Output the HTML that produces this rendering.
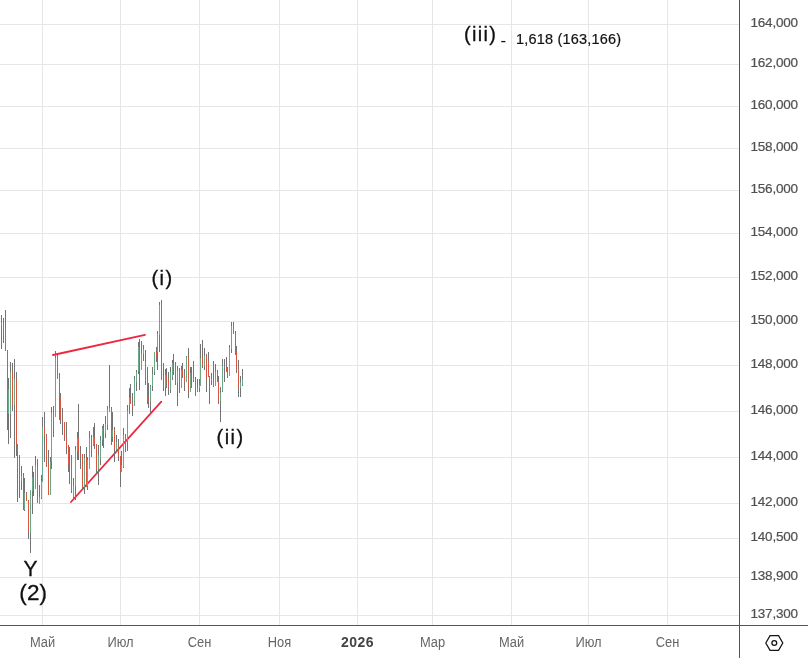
<!DOCTYPE html>
<html lang="ru"><head><meta charset="utf-8"><title>chart</title>
<style>
html,body{margin:0;padding:0;background:#fff;}
body{will-change:transform;width:808px;height:658px;position:relative;overflow:hidden;font-family:"Liberation Sans",sans-serif;}
svg{position:absolute;left:0;top:0;}
.pl{position:absolute;left:750.5px;width:57px;font-size:13.5px;letter-spacing:-0.2px;line-height:16px;color:#505050;-webkit-text-stroke:0.2px #505050;white-space:nowrap;}
.tl{position:absolute;top:634px;width:61px;text-align:center;font-size:14px;letter-spacing:0;line-height:16px;color:#666;transform:scaleX(0.92);white-space:nowrap;}
.tl.b{font-weight:bold;color:#444;transform:none;letter-spacing:0.45px;}
.w{position:absolute;color:#111;-webkit-text-stroke:0.3px #111;white-space:nowrap;line-height:1;}
</style></head><body>
<svg width="808" height="658" viewBox="0 0 808 658" shape-rendering="crispEdges">
<rect x="0" y="24" width="739" height="1" fill="#e6e6e6"/>
<rect x="0" y="64" width="739" height="1" fill="#e6e6e6"/>
<rect x="0" y="106" width="739" height="1" fill="#e6e6e6"/>
<rect x="0" y="148" width="739" height="1" fill="#e6e6e6"/>
<rect x="0" y="190" width="739" height="1" fill="#e6e6e6"/>
<rect x="0" y="233" width="739" height="1" fill="#e6e6e6"/>
<rect x="0" y="277" width="739" height="1" fill="#e6e6e6"/>
<rect x="0" y="321" width="739" height="1" fill="#e6e6e6"/>
<rect x="0" y="365" width="739" height="1" fill="#e6e6e6"/>
<rect x="0" y="411" width="739" height="1" fill="#e6e6e6"/>
<rect x="0" y="457" width="739" height="1" fill="#e6e6e6"/>
<rect x="0" y="503" width="739" height="1" fill="#e6e6e6"/>
<rect x="0" y="538" width="739" height="1" fill="#e6e6e6"/>
<rect x="0" y="577" width="739" height="1" fill="#e6e6e6"/>
<rect x="0" y="615" width="739" height="1" fill="#e6e6e6"/>
<rect x="42" y="0" width="1" height="625" fill="#e6e6e6"/>
<rect x="120" y="0" width="1" height="625" fill="#e6e6e6"/>
<rect x="199" y="0" width="1" height="625" fill="#e6e6e6"/>
<rect x="279" y="0" width="1" height="625" fill="#e6e6e6"/>
<rect x="357" y="0" width="1" height="625" fill="#e6e6e6"/>
<rect x="432" y="0" width="1" height="625" fill="#e6e6e6"/>
<rect x="511" y="0" width="1" height="625" fill="#e6e6e6"/>
<rect x="588" y="0" width="1" height="625" fill="#e6e6e6"/>
<rect x="667" y="0" width="1" height="625" fill="#e6e6e6"/>
<rect x="739" y="0" width="1" height="658" fill="#555"/>
<rect x="0" y="625" width="808" height="1" fill="#555"/>
<g shape-rendering="auto">
<line x1="53" y1="355" x2="145" y2="334.8" stroke="#f0263c" stroke-width="1.8" stroke-linecap="round"/>
<line x1="71" y1="502" x2="161.3" y2="401.6" stroke="#f0263c" stroke-width="1.8" stroke-linecap="round"/>
</g>
<rect x="1" y="315" width="1" height="34" fill="#737375"/>
<rect x="1" y="323" width="1" height="2" fill="#69a886"/>
<rect x="3" y="318" width="1" height="25" fill="#737375"/>
<rect x="3" y="323" width="1" height="7" fill="#da5540"/>
<rect x="5" y="310" width="1" height="41" fill="#737375"/>
<rect x="5" y="329" width="1" height="22" fill="#da5540"/>
<rect x="7" y="350" width="1" height="80" fill="#737375"/>
<rect x="7" y="350" width="1" height="63" fill="#da5540"/>
<rect x="8" y="378" width="1" height="66" fill="#737375"/>
<rect x="8" y="389" width="1" height="25" fill="#69a886"/>
<rect x="10" y="362" width="1" height="76" fill="#737375"/>
<rect x="10" y="372" width="1" height="42" fill="#69a886"/>
<rect x="12" y="363" width="1" height="48" fill="#737375"/>
<rect x="12" y="372" width="1" height="33" fill="#da5540"/>
<rect x="14" y="359" width="1" height="99" fill="#737375"/>
<rect x="14" y="379" width="1" height="26" fill="#69a886"/>
<rect x="16" y="372" width="1" height="84" fill="#737375"/>
<rect x="16" y="379" width="1" height="67" fill="#da5540"/>
<rect x="17" y="444" width="1" height="58" fill="#737375"/>
<rect x="17" y="445" width="1" height="24" fill="#da5540"/>
<rect x="19" y="455" width="1" height="43" fill="#737375"/>
<rect x="19" y="456" width="1" height="26" fill="#da5540"/>
<rect x="21" y="466" width="1" height="24" fill="#737375"/>
<rect x="21" y="476" width="1" height="5" fill="#69a886"/>
<rect x="23" y="473" width="1" height="37" fill="#737375"/>
<rect x="23" y="476" width="1" height="34" fill="#da5540"/>
<rect x="24" y="478" width="1" height="33" fill="#737375"/>
<rect x="24" y="493" width="1" height="17" fill="#69a886"/>
<rect x="26" y="492" width="1" height="9" fill="#737375"/>
<rect x="26" y="493" width="1" height="8" fill="#da5540"/>
<rect x="28" y="500" width="1" height="39" fill="#737375"/>
<rect x="28" y="500" width="1" height="32" fill="#da5540"/>
<rect x="30" y="490" width="1" height="63" fill="#737375"/>
<rect x="30" y="490" width="1" height="43" fill="#69a886"/>
<rect x="32" y="466" width="1" height="48" fill="#737375"/>
<rect x="32" y="477" width="1" height="14" fill="#69a886"/>
<rect x="33" y="472" width="1" height="24" fill="#737375"/>
<rect x="33" y="477" width="1" height="11" fill="#da5540"/>
<rect x="35" y="456" width="1" height="33" fill="#737375"/>
<rect x="35" y="465" width="1" height="24" fill="#69a886"/>
<rect x="37" y="459" width="1" height="44" fill="#737375"/>
<rect x="37" y="467" width="1" height="36" fill="#da5540"/>
<rect x="39" y="485" width="1" height="19" fill="#737375"/>
<rect x="39" y="497" width="1" height="7" fill="#69a886"/>
<rect x="41" y="475" width="1" height="24" fill="#737375"/>
<rect x="41" y="481" width="1" height="17" fill="#69a886"/>
<rect x="42" y="417" width="1" height="65" fill="#737375"/>
<rect x="42" y="427" width="1" height="55" fill="#69a886"/>
<rect x="44" y="412" width="1" height="50" fill="#737375"/>
<rect x="44" y="427" width="1" height="9" fill="#da5540"/>
<rect x="46" y="434" width="1" height="33" fill="#737375"/>
<rect x="46" y="435" width="1" height="30" fill="#da5540"/>
<rect x="48" y="450" width="1" height="45" fill="#737375"/>
<rect x="48" y="464" width="1" height="31" fill="#da5540"/>
<rect x="50" y="457" width="1" height="38" fill="#737375"/>
<rect x="50" y="462" width="1" height="33" fill="#69a886"/>
<rect x="51" y="407" width="1" height="62" fill="#737375"/>
<rect x="51" y="413" width="1" height="49" fill="#69a886"/>
<rect x="53" y="406" width="1" height="31" fill="#737375"/>
<rect x="53" y="412" width="1" height="15" fill="#da5540"/>
<rect x="55" y="351" width="1" height="66" fill="#737375"/>
<rect x="55" y="358" width="1" height="59" fill="#69a886"/>
<rect x="57" y="355" width="1" height="24" fill="#737375"/>
<rect x="57" y="357" width="1" height="22" fill="#da5540"/>
<rect x="59" y="373" width="1" height="47" fill="#737375"/>
<rect x="59" y="378" width="1" height="20" fill="#da5540"/>
<rect x="60" y="393" width="1" height="31" fill="#737375"/>
<rect x="60" y="397" width="1" height="23" fill="#da5540"/>
<rect x="62" y="408" width="1" height="27" fill="#737375"/>
<rect x="62" y="420" width="1" height="2" fill="#da5540"/>
<rect x="64" y="422" width="1" height="19" fill="#737375"/>
<rect x="64" y="422" width="1" height="16" fill="#da5540"/>
<rect x="66" y="422" width="1" height="32" fill="#737375"/>
<rect x="66" y="437" width="1" height="10" fill="#da5540"/>
<rect x="68" y="445" width="1" height="27" fill="#737375"/>
<rect x="68" y="446" width="1" height="20" fill="#da5540"/>
<rect x="69" y="447" width="1" height="37" fill="#737375"/>
<rect x="71" y="455" width="1" height="38" fill="#737375"/>
<rect x="71" y="455" width="1" height="36" fill="#da5540"/>
<rect x="73" y="478" width="1" height="20" fill="#737375"/>
<rect x="73" y="486" width="1" height="11" fill="#69a886"/>
<rect x="75" y="446" width="1" height="54" fill="#737375"/>
<rect x="75" y="450" width="1" height="36" fill="#69a886"/>
<rect x="77" y="432" width="1" height="28" fill="#737375"/>
<rect x="77" y="438" width="1" height="13" fill="#69a886"/>
<rect x="78" y="404" width="1" height="56" fill="#737375"/>
<rect x="78" y="438" width="1" height="16" fill="#da5540"/>
<rect x="80" y="446" width="1" height="23" fill="#737375"/>
<rect x="80" y="453" width="1" height="3" fill="#da5540"/>
<rect x="82" y="454" width="1" height="35" fill="#737375"/>
<rect x="82" y="454" width="1" height="34" fill="#da5540"/>
<rect x="84" y="454" width="1" height="40" fill="#737375"/>
<rect x="84" y="458" width="1" height="29" fill="#69a886"/>
<rect x="86" y="447" width="1" height="40" fill="#737375"/>
<rect x="86" y="458" width="1" height="29" fill="#da5540"/>
<rect x="87" y="457" width="1" height="33" fill="#737375"/>
<rect x="87" y="460" width="1" height="26" fill="#69a886"/>
<rect x="89" y="431" width="1" height="38" fill="#737375"/>
<rect x="89" y="438" width="1" height="31" fill="#69a886"/>
<rect x="91" y="435" width="1" height="22" fill="#737375"/>
<rect x="91" y="437" width="1" height="8" fill="#da5540"/>
<rect x="93" y="427" width="1" height="19" fill="#737375"/>
<rect x="93" y="437" width="1" height="8" fill="#69a886"/>
<rect x="94" y="423" width="1" height="26" fill="#737375"/>
<rect x="94" y="438" width="1" height="7" fill="#da5540"/>
<rect x="96" y="444" width="1" height="30" fill="#737375"/>
<rect x="96" y="444" width="1" height="26" fill="#da5540"/>
<rect x="98" y="445" width="1" height="40" fill="#737375"/>
<rect x="98" y="455" width="1" height="14" fill="#69a886"/>
<rect x="100" y="436" width="1" height="29" fill="#737375"/>
<rect x="100" y="440" width="1" height="19" fill="#69a886"/>
<rect x="102" y="426" width="1" height="20" fill="#737375"/>
<rect x="102" y="428" width="1" height="12" fill="#69a886"/>
<rect x="103" y="424" width="1" height="24" fill="#737375"/>
<rect x="103" y="428" width="1" height="6" fill="#da5540"/>
<rect x="105" y="416" width="1" height="22" fill="#737375"/>
<rect x="105" y="424" width="1" height="9" fill="#69a886"/>
<rect x="107" y="406" width="1" height="24" fill="#737375"/>
<rect x="107" y="409" width="1" height="16" fill="#69a886"/>
<rect x="109" y="365" width="1" height="47" fill="#737375"/>
<rect x="109" y="408" width="1" height="4" fill="#69a886"/>
<rect x="111" y="407" width="1" height="38" fill="#737375"/>
<rect x="111" y="408" width="1" height="31" fill="#da5540"/>
<rect x="112" y="412" width="1" height="30" fill="#737375"/>
<rect x="112" y="430" width="1" height="7" fill="#69a886"/>
<rect x="114" y="427" width="1" height="35" fill="#737375"/>
<rect x="114" y="430" width="1" height="19" fill="#da5540"/>
<rect x="116" y="435" width="1" height="17" fill="#737375"/>
<rect x="116" y="442" width="1" height="8" fill="#69a886"/>
<rect x="118" y="439" width="1" height="22" fill="#737375"/>
<rect x="118" y="446" width="1" height="10" fill="#da5540"/>
<rect x="120" y="456" width="1" height="31" fill="#737375"/>
<rect x="120" y="456" width="1" height="15" fill="#da5540"/>
<rect x="121" y="451" width="1" height="21" fill="#737375"/>
<rect x="121" y="465" width="1" height="7" fill="#69a886"/>
<rect x="123" y="428" width="1" height="40" fill="#737375"/>
<rect x="123" y="435" width="1" height="32" fill="#69a886"/>
<rect x="125" y="434" width="1" height="18" fill="#737375"/>
<rect x="125" y="435" width="1" height="11" fill="#da5540"/>
<rect x="127" y="405" width="1" height="46" fill="#737375"/>
<rect x="127" y="411" width="1" height="30" fill="#69a886"/>
<rect x="129" y="388" width="1" height="26" fill="#737375"/>
<rect x="129" y="398" width="1" height="7" fill="#69a886"/>
<rect x="130" y="384" width="1" height="20" fill="#737375"/>
<rect x="130" y="398" width="1" height="6" fill="#da5540"/>
<rect x="132" y="393" width="1" height="23" fill="#737375"/>
<rect x="132" y="403" width="1" height="4" fill="#da5540"/>
<rect x="134" y="376" width="1" height="30" fill="#737375"/>
<rect x="134" y="379" width="1" height="27" fill="#69a886"/>
<rect x="136" y="370" width="1" height="21" fill="#737375"/>
<rect x="136" y="372" width="1" height="10" fill="#69a886"/>
<rect x="138" y="342" width="1" height="32" fill="#737375"/>
<rect x="138" y="347" width="1" height="24" fill="#69a886"/>
<rect x="139" y="339" width="1" height="51" fill="#737375"/>
<rect x="139" y="347" width="1" height="24" fill="#da5540"/>
<rect x="141" y="341" width="1" height="29" fill="#737375"/>
<rect x="141" y="354" width="1" height="16" fill="#69a886"/>
<rect x="143" y="345" width="1" height="16" fill="#737375"/>
<rect x="143" y="349" width="1" height="5" fill="#69a886"/>
<rect x="145" y="350" width="1" height="35" fill="#737375"/>
<rect x="145" y="361" width="1" height="20" fill="#da5540"/>
<rect x="147" y="367" width="1" height="37" fill="#737375"/>
<rect x="147" y="380" width="1" height="21" fill="#da5540"/>
<rect x="148" y="383" width="1" height="25" fill="#737375"/>
<rect x="148" y="398" width="1" height="4" fill="#da5540"/>
<rect x="150" y="385" width="1" height="29" fill="#737375"/>
<rect x="150" y="386" width="1" height="16" fill="#69a886"/>
<rect x="152" y="367" width="1" height="24" fill="#737375"/>
<rect x="152" y="374" width="1" height="12" fill="#69a886"/>
<rect x="154" y="352" width="1" height="23" fill="#737375"/>
<rect x="154" y="352" width="1" height="20" fill="#69a886"/>
<rect x="156" y="347" width="1" height="15" fill="#737375"/>
<rect x="156" y="352" width="1" height="5" fill="#da5540"/>
<rect x="157" y="331" width="1" height="39" fill="#737375"/>
<rect x="157" y="334" width="1" height="18" fill="#69a886"/>
<rect x="159" y="302" width="1" height="50" fill="#737375"/>
<rect x="159" y="305" width="1" height="30" fill="#69a886"/>
<rect x="161" y="300" width="1" height="80" fill="#737375"/>
<rect x="161" y="305" width="1" height="75" fill="#da5540"/>
<rect x="163" y="363" width="1" height="28" fill="#737375"/>
<rect x="163" y="382" width="1" height="6" fill="#da5540"/>
<rect x="165" y="369" width="1" height="27" fill="#737375"/>
<rect x="165" y="375" width="1" height="12" fill="#69a886"/>
<rect x="166" y="368" width="1" height="20" fill="#737375"/>
<rect x="166" y="375" width="1" height="6" fill="#da5540"/>
<rect x="168" y="372" width="1" height="23" fill="#737375"/>
<rect x="168" y="380" width="1" height="8" fill="#da5540"/>
<rect x="170" y="367" width="1" height="26" fill="#737375"/>
<rect x="170" y="372" width="1" height="18" fill="#69a886"/>
<rect x="172" y="360" width="1" height="20" fill="#737375"/>
<rect x="172" y="363" width="1" height="14" fill="#69a886"/>
<rect x="173" y="354" width="1" height="21" fill="#737375"/>
<rect x="173" y="363" width="1" height="7" fill="#da5540"/>
<rect x="175" y="362" width="1" height="23" fill="#737375"/>
<rect x="175" y="369" width="1" height="14" fill="#da5540"/>
<rect x="177" y="366" width="1" height="40" fill="#737375"/>
<rect x="177" y="371" width="1" height="12" fill="#69a886"/>
<rect x="179" y="368" width="1" height="25" fill="#737375"/>
<rect x="179" y="371" width="1" height="14" fill="#da5540"/>
<rect x="181" y="366" width="1" height="22" fill="#737375"/>
<rect x="181" y="370" width="1" height="18" fill="#69a886"/>
<rect x="182" y="363" width="1" height="15" fill="#737375"/>
<rect x="182" y="370" width="1" height="6" fill="#da5540"/>
<rect x="184" y="369" width="1" height="22" fill="#737375"/>
<rect x="184" y="375" width="1" height="7" fill="#da5540"/>
<rect x="186" y="356" width="1" height="26" fill="#737375"/>
<rect x="186" y="357" width="1" height="25" fill="#69a886"/>
<rect x="188" y="348" width="1" height="50" fill="#737375"/>
<rect x="188" y="358" width="1" height="33" fill="#da5540"/>
<rect x="190" y="367" width="1" height="25" fill="#737375"/>
<rect x="190" y="373" width="1" height="19" fill="#69a886"/>
<rect x="191" y="367" width="1" height="21" fill="#737375"/>
<rect x="191" y="373" width="1" height="6" fill="#da5540"/>
<rect x="193" y="361" width="1" height="21" fill="#737375"/>
<rect x="193" y="379" width="1" height="1" fill="#69a886"/>
<rect x="195" y="377" width="1" height="19" fill="#737375"/>
<rect x="195" y="379" width="1" height="12" fill="#da5540"/>
<rect x="197" y="379" width="1" height="13" fill="#737375"/>
<rect x="197" y="388" width="1" height="3" fill="#69a886"/>
<rect x="199" y="379" width="1" height="13" fill="#737375"/>
<rect x="199" y="385" width="1" height="3" fill="#69a886"/>
<rect x="200" y="344" width="1" height="42" fill="#737375"/>
<rect x="200" y="358" width="1" height="28" fill="#69a886"/>
<rect x="202" y="340" width="1" height="28" fill="#737375"/>
<rect x="202" y="358" width="1" height="8" fill="#da5540"/>
<rect x="204" y="348" width="1" height="22" fill="#737375"/>
<rect x="204" y="356" width="1" height="10" fill="#69a886"/>
<rect x="206" y="354" width="1" height="38" fill="#737375"/>
<rect x="206" y="356" width="1" height="24" fill="#da5540"/>
<rect x="208" y="352" width="1" height="25" fill="#737375"/>
<rect x="208" y="361" width="1" height="16" fill="#da5540"/>
<rect x="209" y="376" width="1" height="28" fill="#737375"/>
<rect x="209" y="377" width="1" height="2" fill="#da5540"/>
<rect x="211" y="373" width="1" height="12" fill="#737375"/>
<rect x="211" y="379" width="1" height="1" fill="#69a886"/>
<rect x="213" y="361" width="1" height="26" fill="#737375"/>
<rect x="213" y="379" width="1" height="7" fill="#da5540"/>
<rect x="215" y="364" width="1" height="22" fill="#737375"/>
<rect x="215" y="372" width="1" height="14" fill="#69a886"/>
<rect x="217" y="370" width="1" height="12" fill="#737375"/>
<rect x="217" y="372" width="1" height="10" fill="#da5540"/>
<rect x="218" y="376" width="1" height="28" fill="#737375"/>
<rect x="218" y="381" width="1" height="20" fill="#da5540"/>
<rect x="220" y="387" width="1" height="35" fill="#737375"/>
<rect x="220" y="393" width="1" height="8" fill="#69a886"/>
<rect x="222" y="359" width="1" height="33" fill="#737375"/>
<rect x="222" y="366" width="1" height="25" fill="#69a886"/>
<rect x="224" y="359" width="1" height="23" fill="#737375"/>
<rect x="224" y="367" width="1" height="1" fill="#da5540"/>
<rect x="226" y="357" width="1" height="15" fill="#737375"/>
<rect x="226" y="368" width="1" height="4" fill="#da5540"/>
<rect x="227" y="367" width="1" height="11" fill="#737375"/>
<rect x="227" y="372" width="1" height="5" fill="#da5540"/>
<rect x="229" y="345" width="1" height="31" fill="#737375"/>
<rect x="229" y="348" width="1" height="28" fill="#69a886"/>
<rect x="231" y="322" width="1" height="31" fill="#737375"/>
<rect x="231" y="326" width="1" height="23" fill="#69a886"/>
<rect x="233" y="322" width="1" height="12" fill="#737375"/>
<rect x="233" y="326" width="1" height="8" fill="#da5540"/>
<rect x="235" y="331" width="1" height="24" fill="#737375"/>
<rect x="235" y="333" width="1" height="20" fill="#da5540"/>
<rect x="236" y="346" width="1" height="27" fill="#737375"/>
<rect x="236" y="352" width="1" height="18" fill="#da5540"/>
<rect x="238" y="360" width="1" height="37" fill="#737375"/>
<rect x="238" y="369" width="1" height="19" fill="#da5540"/>
<rect x="240" y="376" width="1" height="21" fill="#737375"/>
<rect x="240" y="382" width="1" height="6" fill="#69a886"/>
<rect x="242" y="369" width="1" height="17" fill="#737375"/>
<rect x="242" y="379" width="1" height="6" fill="#69a886"/>
<g shape-rendering="auto">
<path d="M765.8 643 L770.05 635.6 L778.55 635.6 L782.8 643 L778.55 650.4 L770.05 650.4 Z" fill="none" stroke="#151515" stroke-width="1.25" stroke-linejoin="miter"/>
<circle cx="774.3" cy="643" r="2.4" fill="none" stroke="#151515" stroke-width="1.3"/>
</g>
</svg>
<div class="pl" style="top:15px">164,000</div>
<div class="pl" style="top:55px">162,000</div>
<div class="pl" style="top:97px">160,000</div>
<div class="pl" style="top:139px">158,000</div>
<div class="pl" style="top:181px">156,000</div>
<div class="pl" style="top:224px">154,000</div>
<div class="pl" style="top:268px">152,000</div>
<div class="pl" style="top:312px">150,000</div>
<div class="pl" style="top:356px">148,000</div>
<div class="pl" style="top:402px">146,000</div>
<div class="pl" style="top:448px">144,000</div>
<div class="pl" style="top:494px">142,000</div>
<div class="pl" style="top:529px">140,500</div>
<div class="pl" style="top:568px">138,900</div>
<div class="pl" style="top:606px">137,300</div>
<div class="tl" style="left:12px">Май</div>
<div class="tl" style="left:90px">Июл</div>
<div class="tl" style="left:169px">Сен</div>
<div class="tl" style="left:249px">Ноя</div>
<div class="tl b" style="left:327px">2026</div>
<div class="tl" style="left:402px">Мар</div>
<div class="tl" style="left:481px">Май</div>
<div class="tl" style="left:558px">Июл</div>
<div class="tl" style="left:637px">Сен</div>
<div class="w" style="left:464px;top:24px;font-size:20px;letter-spacing:1.3px">(iii)</div>
<div class="w" style="left:500.6px;top:32.3px;font-size:17px;-webkit-text-stroke:0">-</div>
<div class="w" style="left:516px;top:32px;font-size:14.5px;letter-spacing:0.19px;-webkit-text-stroke:0.2px #111">1,618 (163,166)</div>
<div class="w" style="left:151.6px;top:268px;font-size:20px;letter-spacing:1.35px">(i)</div>
<div class="w" style="left:216.5px;top:427px;font-size:20px;letter-spacing:1.5px">(ii)</div>
<div class="w" style="left:23.5px;top:557.2px;font-size:21px;transform:scale(1,1.06);transform-origin:0 0">Y</div>
<div class="w" style="left:19.3px;top:582px;font-size:22.5px;letter-spacing:0.15px">(2)</div>
</body></html>
